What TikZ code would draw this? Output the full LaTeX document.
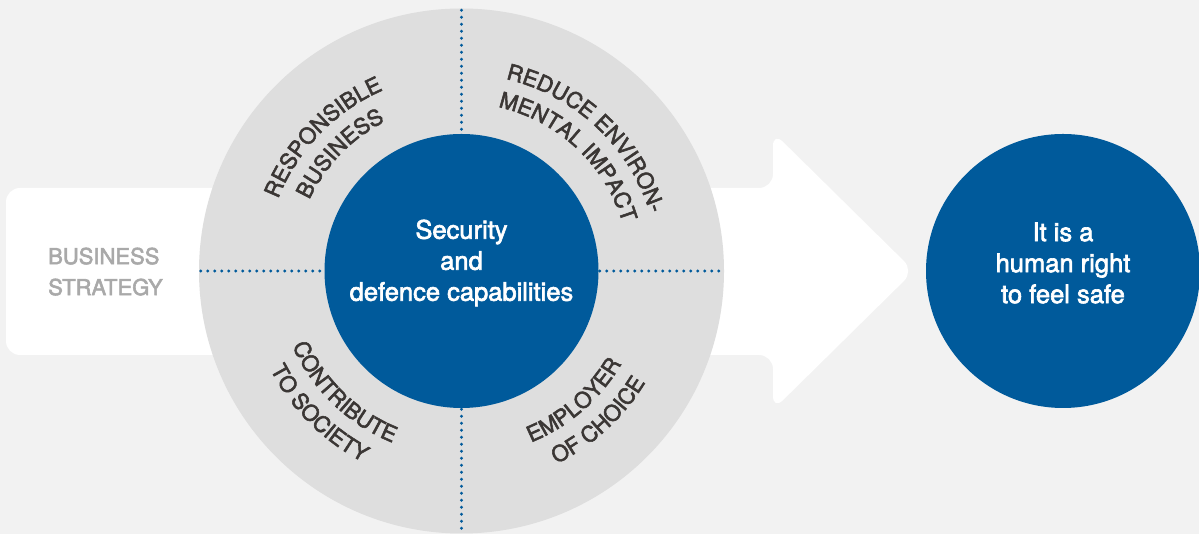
\documentclass[tikz,border=0pt]{standalone}
\usepackage{fontspec}
\setmainfont{TeX Gyre Heros}[BoldFont=TeX Gyre Heros, BoldFeatures={FakeBold=2.5}]
\usetikzlibrary{decorations.text}
\definecolor{bg}{HTML}{F2F2F2}
\definecolor{ringgray}{HTML}{DEDEDE}
\definecolor{brand}{HTML}{005A9B}
\definecolor{lbl}{HTML}{3A3634}
\definecolor{muted}{HTML}{A9A9A9}
\newcommand\arcfont{\fontsize{22}{22}\bfseries}
\begin{document}
\begin{tikzpicture}[x=1pt,y=1pt,
  dotline/.style={draw=brand, line width=3.3pt, line cap=round, dash pattern=on 0pt off 7pt},
  disc/.style={circle, fill=#1, inner sep=0pt},
  centertext/.style={text=white, align=center, inner sep=0pt, font=\fontsize{25.5}{31}\bfseries},
  arclabel/.style={decorate, decoration={text along path, text align=center, text color=lbl, text={|\arcfont|#1}}}]
\fill[bg] (0,0) rectangle (1199,534);
\useasboundingbox (0,0) rectangle (1199,534);
% big arrow
\fill[white, rounded corners=14pt] (6,346) -- (773,346) -- (773,402) -- (914,263) -- (773,124) -- (773,179) -- (6,179) -- cycle;
% ring
\node[disc=ringgray, minimum size=525pt] (ring) at (461.5,263) {};
\draw[dotline] ([yshift=-2pt]ring.north) -- (ring.south);
\draw[dotline] ([xshift=2pt]ring.west) -- ([xshift=-1pt]ring.east);
\node[disc=brand, minimum size=274pt] (core) at (461.5,263) {};
\node[centertext] (coretext) at ([yshift=8pt]core.center) {Security\\and\\defence capabilities};
% goal
\node[disc=brand, minimum size=274pt] (goal) at (1063,263) {};
\node[centertext] (goaltext) at ([yshift=8pt]goal.center) {It is a\\human right\\to feel safe};
% strategy
\node[text=muted, align=left, anchor=west, inner sep=0pt, font=\fontsize{22}{31}\bfseries] (strategy) at (48,262.4) {BUSINESS\\STRATEGY};
% curved labels
\path[arclabel=RESPONSIBLE] ([shift={(196:197pt)}]ring.center) arc[start angle=196, end angle=76, radius=197pt];
\path[arclabel=BUSINESS] ([shift={(196:168pt)}]ring.center) arc[start angle=196, end angle=76, radius=168pt];
\path[arclabel=REDUCE ENVIRON-] ([shift={(107:197pt)}]ring.center) arc[start angle=107, end angle=-13, radius=197pt];
\path[arclabel=MENTAL IMPACT] ([shift={(107:168pt)}]ring.center) arc[start angle=107, end angle=-13, radius=168pt];
\path[arclabel=CONTRIBUTE] ([shift={(166:185pt)}]ring.center) arc[start angle=166, end angle=286, radius=185pt];
\path[arclabel=TO SOCIETY] ([shift={(165:215pt)}]ring.center) arc[start angle=165, end angle=285, radius=215pt];
\path[arclabel=EMPLOYER] ([shift={(251:185pt)}]ring.center) arc[start angle=251, end angle=371, radius=185pt];
\path[arclabel=OF CHOICE] ([shift={(252.5:215pt)}]ring.center) arc[start angle=252.5, end angle=372.5, radius=215pt];
\end{tikzpicture}
\end{document}
